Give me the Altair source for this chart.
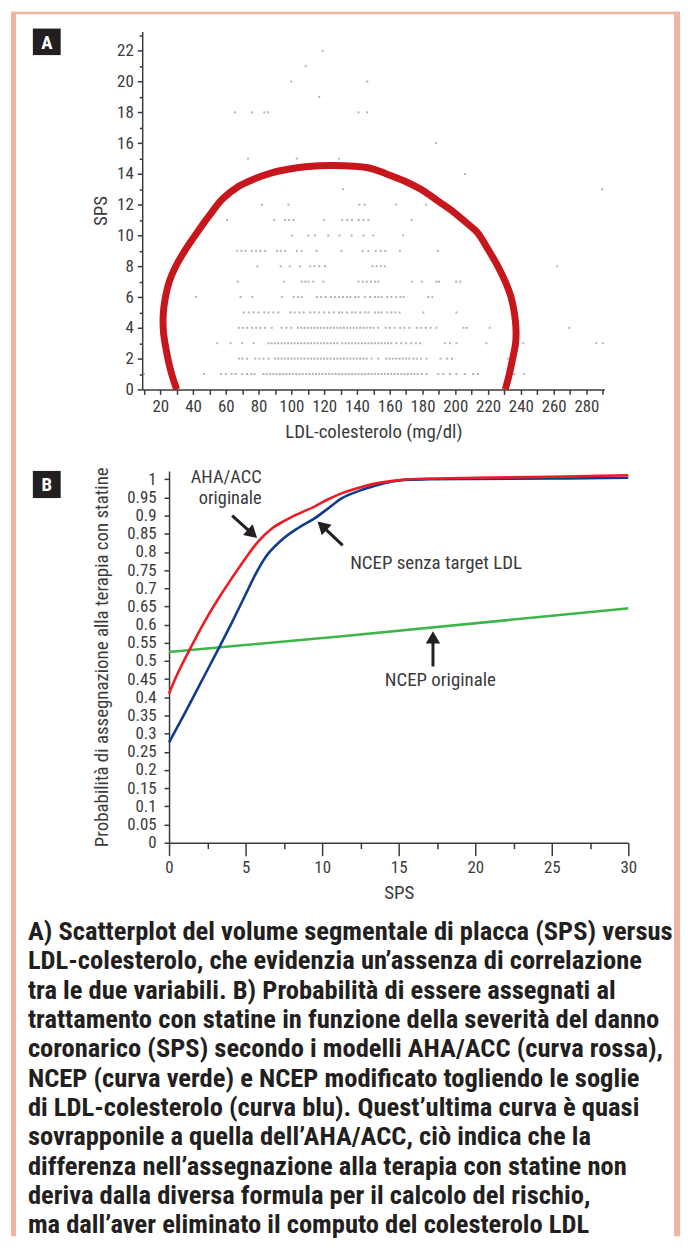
import altair as alt
import pandas as pd

FONT = "Liberation Sans Narrow, Roboto Condensed, DejaVu Sans Condensed, Arial Narrow, sans-serif"
INK = "#3b3b3b"
DARK = "#231f20"
FRAME = "#efb5a0"

# ---------------- Panel A: scatter LDL (x) vs SPS (y) ----------------
SPS_1 = [10, 46.7, 57, 60, 63.5, 66, 70, 73, 75.5, 77.5, 83, 85, 87, 89, 91, 93, 95, 97, 99, 101,
         103, 105, 107, 109, 111, 113, 115, 117, 119, 121, 123, 125, 127, 129, 131, 133, 135, 137,
         139, 141, 143, 145, 147, 149, 151, 153, 155, 157, 159, 161, 163, 165, 167, 169, 171, 173,
         175, 177, 179.5, 182.5, 189.6, 192.7, 196.7, 200.7, 205.8, 210.9, 213.9, 236, 242]
SPS_2 = [68, 70, 73, 78, 80.5, 83, 86, 90, 92, 94, 96, 98, 100, 102, 104, 106, 108, 110, 112, 114,
         116, 118, 120, 122, 124, 126, 128, 130, 132, 134, 136, 138, 140, 142, 144, 146, 149, 153,
         158, 160, 162, 164, 166, 168, 170, 172, 174.5, 176.5, 179, 182.5, 191, 195, 198, 232]
SPS_3 = [54.8, 62.9, 69.9, 77, 86, 88, 90, 92, 94, 96, 98, 100, 102, 104, 106, 108, 110, 112, 114,
         116, 118, 120, 122, 124, 126, 128, 131, 133, 135, 137, 139, 141, 143, 145, 147, 149, 151,
         153, 155, 157, 159, 161, 164, 167, 170, 173, 176, 178.5, 193.6, 196.7, 200.7, 219, 241.5,
         286, 290]
SPS_4 = [68, 70.5, 73, 76, 78.5, 81, 84, 88, 94, 97, 100, 104, 106, 108, 110, 112, 114, 116, 118,
         120, 122, 124, 126, 128, 130, 132, 134, 136, 138, 140, 142, 144, 146, 148, 150, 153, 157.5,
         160, 163, 166.5, 169, 172, 176.5, 179, 182, 185, 188.5, 205, 207, 221, 269.5]
SPS_5 = [71, 74, 77, 80, 83.5, 86, 89, 92, 99.5, 102, 105, 107.5, 111.5, 114, 117, 120, 123, 126,
         129, 131, 134, 137, 139, 142, 145, 147, 151, 153, 155, 158.5, 161, 163.5, 166, 180.5, 200.7]
SPS_6 = [41.8, 69, 76.2, 94.2, 101.5, 104, 106.3, 115.5, 118, 121, 124, 126.6, 129, 131.5, 134, 136,
         139, 141, 145, 148, 151, 153, 155, 158.5, 161, 164, 166.5, 168.5, 183.5, 186]
SPS_7 = [67.2, 95.4, 106.3, 108.5, 110.4, 113.4, 119.5, 141, 143.5, 146, 148.5, 151, 153, 173.5,
         179.6, 188.5, 190, 200.5, 203]
SPS_8 = [79.3, 93.5, 99, 105.3, 111.5, 114, 117, 120.5, 149.5, 152, 154.5, 157, 262.2]
SPS_9 = [67, 69.5, 72, 76, 78.5, 81, 84, 91.2, 93.5, 96.2, 103.3, 106.3, 115.4, 130.6, 143.5, 147,
         151.5, 154.5, 157.3, 166.2, 189.5]
SPS_10 = [100.3, 110.4, 114.4, 122.5, 129.3, 136.8, 144, 150, 168.2]
SPS_11 = [60.8, 89.5, 96.2, 98.5, 101.3, 119.8, 131, 134, 137, 141.1, 144, 147, 173.4]
SPS_12 = [82.1, 98.2, 141.5, 144.8, 164, 182.3]
SPS_13 = [131.5, 289.5]
SPS_14 = [206]
SPS_15 = [73.6, 103.3, 129]
SPS_16 = [188.2]
SPS_18 = [65.7, 76, 83.5, 85.7, 140.9, 146.2]
SPS_19 = [117]
SPS_20 = [99.9, 146.3]
SPS_21 = [108.7]
SPS_22 = [119]

ROWS = {1: SPS_1, 2: SPS_2, 3: SPS_3, 4: SPS_4, 5: SPS_5, 6: SPS_6, 7: SPS_7, 8: SPS_8,
        9: SPS_9, 10: SPS_10, 11: SPS_11, 12: SPS_12, 13: SPS_13, 14: SPS_14, 15: SPS_15,
        16: SPS_16, 18: SPS_18, 19: SPS_19, 20: SPS_20, 21: SPS_21, 22: SPS_22}

# red arc drawn over the scatter (LDL, SPS)
ARC_LDL = [30, 27.5, 25.5, 23.5, 22, 21.8, 23, 25.5, 29.5, 35.5, 42.5, 50, 57.8, 67.9, 78, 88, 98,
           108.4, 125.5, 146.8, 158, 169, 179, 190, 199.3, 206.5, 213.5, 220, 226, 230.5, 234,
           236, 237, 236.8, 235, 233, 230.5]
ARC_SPS = [0, 0.8, 1.6, 2.65, 3.7, 4.8, 5.9, 7, 8, 9.1, 10.2, 11.3, 12.35, 13.2, 13.7, 14.07, 14.3,
           14.46, 14.55, 14.4, 14.0, 13.54, 13.0, 12.2, 11.5, 10.85, 10.2, 9.1, 8.0, 7.0, 6.0,
           5.0, 4.0, 3.0, 2.0, 1.0, 0]

# ---------------- Panel B: probability vs SPS ----------------
RED_SPS = [0, 0.45, 1.43, 2.4, 3.26, 4.12, 5, 5.85, 6.7, 7.6, 8.45, 9.5, 10.4, 11.3, 12.4, 13.45,
           14.5, 15.6, 17, 20, 25, 30]
RED_P = [0.41, 0.455, 0.538, 0.614, 0.674, 0.729, 0.783, 0.83, 0.864, 0.887, 0.905, 0.925, 0.945,
         0.962, 0.977, 0.988, 0.995, 1.0, 1.002, 1.004, 1.007, 1.011]
BLUE_SPS = [0, 1, 2.18, 3.37, 4.12, 5, 5.6, 6.29, 7.36, 8.44, 9.53, 10.4, 11.3, 12.4, 13.45,
            14.5, 15.6, 17, 20, 25, 30]
BLUE_P = [0.276, 0.354, 0.449, 0.545, 0.607, 0.683, 0.735, 0.785, 0.833, 0.866, 0.893, 0.92,
          0.948, 0.968, 0.982, 0.993, 0.999, 1.0, 1.001, 1.002, 1.004]
GREEN_SPS = [0, 11.3, 30]
GREEN_P = [0.525, 0.568, 0.645]

ANN_LEFT_TEXT = ["AHA/ACC", "originale"]
ANN_LEFT_SPS = [6.05, 6.05]
ANN_LEFT_P = [0.99, 0.932]
ANN_MID_TEXT = ["NCEP senza target LDL"]
ANN_MID_SPS = [11.83]
ANN_MID_P = [0.754]
ANN_LOW_TEXT = ["NCEP originale"]
ANN_LOW_SPS = [17.72]
ANN_LOW_P = [0.43]

ARROW_TAIL_SPS = [4.12, 11.34, 17.24]
ARROW_TAIL_P = [0.90, 0.818, 0.485]
ARROW_HEAD_SPS = [5.45, 10.0, 17.24]
ARROW_HEAD_P = [0.850, 0.872, 0.565]

CAPTION = [
    "A) Scatterplot del volume segmentale di placca (SPS) versus",
    "LDL-colesterolo, che evidenzia un’assenza di correlazione",
    "tra le due variabili. B) Probabilità di essere assegnati al",
    "trattamento con statine in funzione della severità del danno",
    "coronarico (SPS) secondo i modelli AHA/ACC (curva rossa),",
    "NCEP (curva verde) e NCEP modificato togliendo le soglie",
    "di LDL-colesterolo (curva blu). Quest’ultima curva è quasi",
    "sovrapponile a quella dell’AHA/ACC, ciò indica che la",
    "differenza nell’assegnazione alla terapia con statine non",
    "deriva dalla diversa formula per il calcolo del rischio,",
    "ma dall’aver eliminato il computo del colesterolo LDL",
]

# ---------------- data frames ----------------
df_sc = pd.DataFrame([(v, k) for k, lst in ROWS.items() for v in lst], columns=["ldl", "sps"])
df_arc = pd.DataFrame({"ldl": ARC_LDL, "sps": ARC_SPS, "i": range(len(ARC_LDL))})
df_lines = pd.concat([
    pd.DataFrame({"sps": GREEN_SPS, "p": GREEN_P, "s": "green"}),
    pd.DataFrame({"sps": BLUE_SPS, "p": BLUE_P, "s": "blue"}),
    pd.DataFrame({"sps": RED_SPS, "p": RED_P, "s": "red"}),
])
one = pd.DataFrame({"k": [0]})

WA, HA = 465, 360
WB, HB = 489, 374

xA = alt.Scale(domain=[9, 291], nice=False, zero=False)
yA = alt.Scale(domain=[0, 23.25], nice=False, zero=False)
xB = alt.Scale(domain=[0, 30], range=[27, WB], nice=False, zero=False)
yB = alt.Scale(domain=[0, 1.023], nice=False, zero=False)


def band(x1, x2, y1, y2, color):
    return alt.Chart(one).mark_rect(color=color).encode(
        x=alt.value(x1), x2=alt.value(x2), y=alt.value(y1), y2=alt.value(y2))


def letter(ch, y1, y2):
    box = band(-110, -82, y1, y2, DARK)
    txt = alt.Chart(one).mark_text(text=ch, font=FONT, fontSize=19, fontWeight="bold",
                                   color="white", align="center", baseline="middle").encode(
        x=alt.value(-96), y=alt.value((y1 + y2) / 2 + 1))
    return box + txt


# frame (drawn from panel A's layer, relative to its plot origin)
frame = (band(-132, -127, -20, 1212, FRAME) + band(535, 541, -20, 1212, FRAME)
         + band(-132, 541, -20, -17.5, FRAME))

scatter = alt.Chart(df_sc).mark_square(size=4, color="#808080", opacity=0.6).encode(
    x=alt.X("ldl:Q", scale=xA, axis=alt.Axis(
        values=list(range(10, 300, 10)),
        labelExpr="datum.value % 20 == 0 ? datum.label : ''",
        tickSize=5, labelPadding=4, title="LDL-colesterolo (mg/dl)", titlePadding=8,
        orient="bottom")),
    y=alt.Y("sps:Q", scale=yA, axis=alt.Axis(
        values=list(range(0, 23, 2)), tickSize=5, labelPadding=4, title="SPS", titlePadding=6,
        orient="left")),
)
minorA = alt.Chart(df_sc).mark_point(opacity=0).encode(
    x=alt.X("ldl:Q", scale=xA, axis=None),
    y=alt.Y("sps:Q", scale=yA, axis=alt.Axis(values=list(range(1, 24, 2)), labels=False,
                                             tickSize=3, domain=False, title=None,
                                             orient="left")),
)
arc = alt.Chart(df_arc).mark_line(color="#c8161d", strokeWidth=7,
                                  interpolate="catmull-rom").encode(
    x=alt.X("ldl:Q", scale=xA, axis=None),
    y=alt.Y("sps:Q", scale=yA, axis=None),
    order="i:Q",
)
panelA = alt.layer(frame, scatter, minorA, arc, letter("A", -3, 23.7)).resolve_axis(
    x="independent", y="independent").properties(width=WA, height=HA)

# ---------------- panel B ----------------
lines = alt.Chart(df_lines).mark_line(strokeWidth=2.6, interpolate="monotone").encode(
    x=alt.X("sps:Q", scale=xB, axis=alt.Axis(
        values=[0, 5, 10, 15, 20, 25, 30], tickSize=13, labelPadding=4, title="SPS",
        titlePadding=8, orient="bottom")),
    y=alt.Y("p:Q", scale=yB, axis=alt.Axis(
        values=[round(i * 0.05, 2) for i in range(21)], format="~g", tickSize=5,
        labelPadding=8, title="Probabilità di assegnazione alla terapia con statine",
        titlePadding=15, offset=-27, orient="left")),
    color=alt.Color("s:N", scale=alt.Scale(domain=["green", "blue", "red"],
                                           range=["#3db54a", "#0f3c8c", "#ec1c24"]), legend=None),
    detail="s:N",
)
minorB = alt.Chart(df_lines).mark_point(opacity=0).encode(
    x=alt.X("sps:Q", scale=xB, axis=alt.Axis(values=[2.5, 7.5, 12.5, 17.5, 22.5, 27.5],
                                             labels=False, tickSize=6, domain=False,
                                             title=None, orient="bottom")),
    y=alt.Y("p:Q", scale=yB, axis=None),
)


def ann(texts, xs, ys, align, size=19):
    d = pd.DataFrame({"t": texts, "sps": xs, "p": ys})
    return alt.Chart(d).mark_text(font=FONT, fontSize=size, color=INK, align=align,
                                  baseline="alphabetic").encode(
        x=alt.X("sps:Q", scale=xB, axis=None), y=alt.Y("p:Q", scale=yB, axis=None), text="t:N")


df_arrows = pd.DataFrame({"sx": ARROW_TAIL_SPS, "sy": ARROW_TAIL_P,
                          "hx": ARROW_HEAD_SPS, "hy": ARROW_HEAD_P})
shafts = alt.Chart(df_arrows).mark_rule(strokeWidth=3, color=DARK).encode(
    x=alt.X("sx:Q", scale=xB, axis=None), y=alt.Y("sy:Q", scale=yB, axis=None),
    x2="hx:Q", y2="hy:Q")


def head(i, angle):
    d = df_arrows.iloc[[i]]
    return alt.Chart(d).mark_point(shape="triangle-up", filled=True, size=210, angle=angle,
                                   color=DARK, opacity=1).encode(
        x=alt.X("hx:Q", scale=xB, axis=None), y=alt.Y("hy:Q", scale=yB, axis=None))


panelB = alt.layer(
    lines, minorB,
    ann(ANN_LEFT_TEXT, ANN_LEFT_SPS, ANN_LEFT_P, "right", 18.5),
    ann(ANN_MID_TEXT, ANN_MID_SPS, ANN_MID_P, "left"),
    ann(ANN_LOW_TEXT, ANN_LOW_SPS, ANN_LOW_P, "center"),
    shafts, head(0, 132), head(1, 313), head(2, 0),
    letter("B", 0, 27.3),
).resolve_axis(x="independent", y="independent").properties(width=WB, height=HB)

# ---------------- caption ----------------
df_cap = pd.DataFrame({"i": list(range(len(CAPTION))), "t": CAPTION})
caption = alt.Chart(df_cap).mark_text(font=FONT, fontSize=26.7, fontWeight="bold", color=DARK,
                                      align="left", baseline="middle").encode(
    x=alt.value(-115),
    y=alt.Y("i:Q", scale=alt.Scale(domain=[0, 10], range=[8, 303]), axis=None),
    text="t:N",
).properties(width=WB, height=300)

chart = alt.vconcat(panelA, panelB, caption, spacing=82, bounds="flush").properties(
    padding={"left": 3, "top": 0, "right": 0, "bottom": 0}, background="white"
).configure_view(stroke=None).configure_axis(
    labelFont=FONT, labelFontSize=17, labelColor=INK, titleFont=FONT, titleFontSize=19,
    titleFontWeight="normal", titleColor=INK, domainColor=INK, tickColor=INK,
    domainWidth=1.5, tickWidth=1.5, grid=False, labelFlush=False, labelOverlap=False,
)

chart.save("out.html", embed_options={"renderer": "svg", "actions": False})
